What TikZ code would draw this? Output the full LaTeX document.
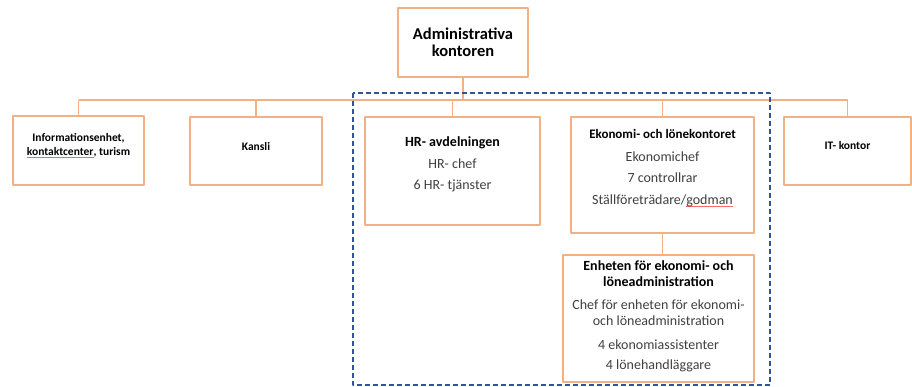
\documentclass[tikz,border=0pt]{standalone}
\usepackage{fontspec}
\setmainfont{Carlito}
\usetikzlibrary{positioning}
\definecolor{boxline}{RGB}{242,176,132}
\definecolor{frameblue}{RGB}{47,85,151}
\definecolor{txtgray}{RGB}{64,64,64}
\newsavebox{\spellbox}
\newcommand{\spellmark}[1]{\sbox{\spellbox}{#1}\rlap{\textcolor{red!60}{\rule[-2pt]{\wd\spellbox}{0.6pt}}}\usebox{\spellbox}}
\begin{document}
\begin{tikzpicture}[x=1pt, y=-1pt, line join=round,
    box/.style={draw=boxline, line width=1.3pt, fill=white, inner sep=0pt},
    conn/.style={draw=boxline, line width=1.3pt},
    boxtext/.style={align=center, inner sep=0pt, text=txtgray, font=\fontsize{14}{16}\selectfont},
    smalltext/.style={align=center, inner sep=0pt, font=\fontsize{11.5}{13.5}\selectfont\bfseries}]
    \useasboundingbox[fill=white] (0,0) rectangle (912,387);
    % top
    \node[box, minimum width=130pt, minimum height=69pt, align=center, font=\fontsize{16.5}{17.5}\selectfont\bfseries] (adm) at (463,42.5) {Administrativa\\kontoren};
    % boxes on the bus
    \node[box, minimum width=131pt, minimum height=69pt] (info) at (78.5,150.5) {};
    \node[box, minimum width=132pt, minimum height=68pt] (kansli) at (256,151) {};
    \node[box, minimum width=175pt, minimum height=108pt] (hr) at (452.5,171) {};
    \node[box, minimum width=183pt, minimum height=116pt] (eko) at (662.5,175) {};
    \node[box, minimum width=127pt, minimum height=68pt] (it) at (847.5,151) {};
    \node[box, minimum width=191pt, minimum height=127pt] (enh) at (658.5,318.5) {};
    % texts
    \node[smalltext, yshift=5pt] (infotext) at (info.center) {Informationsenhet,\\\spellmark{kontaktcenter}, turism};
    \node[smalltext, yshift=4pt] (kanslitext) at (kansli.center) {Kansli};
    \node[smalltext, yshift=5pt] (ittext) at (it.center) {IT- kontor};
    \node[boxtext, below=20pt of hr.north] (hrtext) {\textcolor{black}{\textbf{HR- avdelningen}}\\[6.5pt]HR- chef\\[5pt]6 HR- tjänster};
    \node[boxtext, below=13pt of eko.north] (ekotext) {\textcolor{black}{\fontsize{13}{16}\selectfont\textbf{Ekonomi- och lönekontoret}}\\[6.5pt]Ekonomichef\\[5.5pt]7 controllrar\\[6pt]Ställföreträdare/\spellmark{godman}};
    \node[boxtext, below=6pt of enh.north] (enhtext) {\textcolor{black}{\textbf{Enheten för ekonomi- och}}\\\textcolor{black}{\textbf{löneadministration}}\\[7pt]Chef för enheten för ekonomi-\\och löneadministration\\[8.5pt]4 ekonomiassistenter\\[4pt]4 lönehandläggare};
    % connectors
    \coordinate (bus) at (463,100);
    \draw[conn] (adm.south) -- (bus);
    \draw[conn] (info.north |- bus) -- (it.north |- bus);
    \foreach \n in {info,kansli,hr,eko,it} \draw[conn] (\n.north) -- (\n.north |- bus);
    \draw[conn] (eko.south) -- (eko.south |- enh.north);
    % dashed frame
    \draw[frameblue, line width=1.6pt, dash pattern=on 5pt off 3pt] (353,93) rectangle (770,385);
\end{tikzpicture}
\end{document}
